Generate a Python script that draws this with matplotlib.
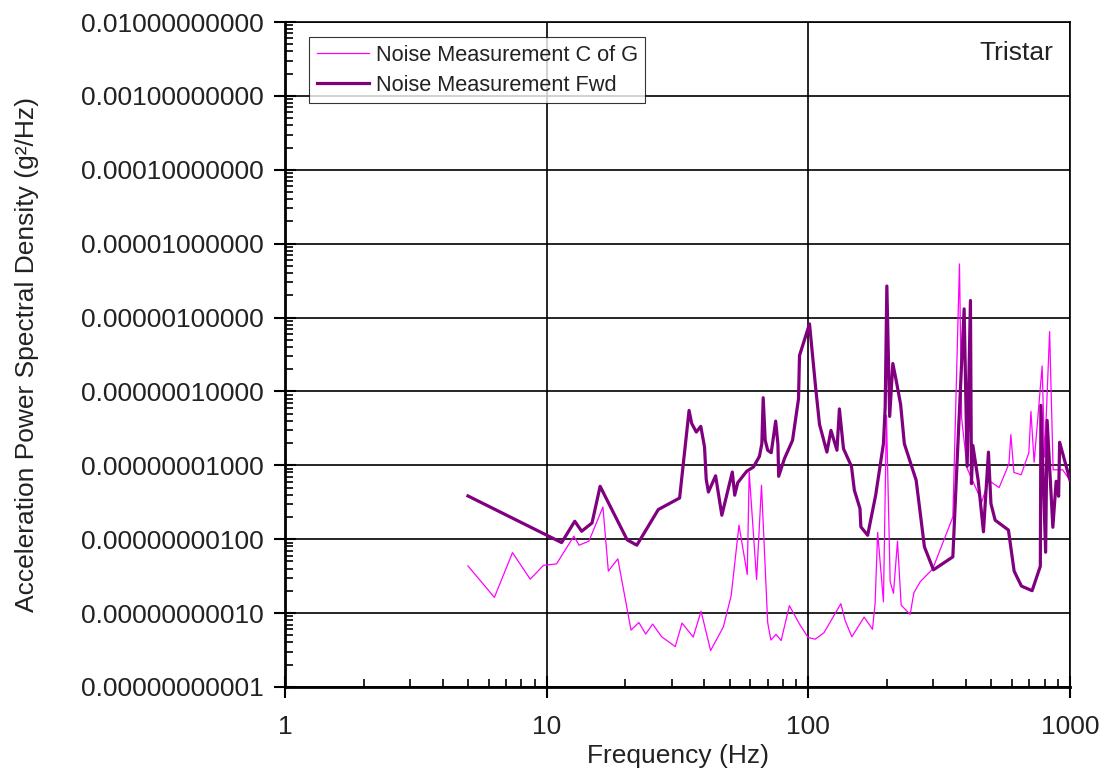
import matplotlib
matplotlib.use("Agg")
import matplotlib.pyplot as plt
from matplotlib.ticker import LogLocator, FixedLocator, FuncFormatter, NullFormatter

plt.rcParams['font.family'] = ['Liberation Sans', 'DejaVu Sans']

# Forward measurement point
fwd_freq = [5.0, 11.4, 12.8, 13.6, 14.9, 16.0, 20.3, 22.1, 26.7, 32.2, 35.0, 35.8, 37.3,
            38.8, 40.1, 40.7, 41.5, 44.2, 46.7, 51.2, 52.3, 53.7, 58.1, 61.7, 65.0, 66.4,
            67.2, 68.4, 69.9, 72.1, 75.0, 76.5, 77.0, 81.0, 87.0, 91.7, 92.5, 101.0, 106.6,
            110.3, 117.7, 122.0, 128.6, 131.4, 136.2, 146.1, 149.9, 157.5, 158.7, 168.5,
            180.8, 193.6, 196.6, 199.5, 204.5, 210.3, 217.8, 225.2, 232.7, 258.2, 277.7,
            300.6, 356.6, 370.4, 393.8, 404.4, 416.3, 420.0, 425.2, 445.5, 466.8, 487.8,
            498.6, 517.4, 581.6, 611.5, 652.0, 716.3, 770.0, 774.1, 806.8, 817.5, 859.7,
            885.0, 904.6, 912.6, 1000.0]
fwd_psd = [3.85e-9, 9.0e-10, 1.75e-9, 1.28e-9, 1.66e-9, 5.2e-9, 9.8e-10, 8.3e-10, 2.52e-9,
           3.61e-9, 5.53e-8, 3.70e-8, 2.82e-8, 3.37e-8, 1.77e-8, 6.47e-9, 4.35e-9, 7.21e-9,
           2.11e-9, 8.1e-9, 3.94e-9, 5.81e-9, 8.3e-9, 9.5e-9, 1.32e-8, 1.96e-8, 8.22e-8,
           2.18e-8, 1.6e-8, 1.48e-8, 3.97e-8, 1.92e-8, 7.1e-9, 1.23e-8, 2.18e-8, 7.96e-8,
           3.06e-7, 8.22e-7, 1.13e-7, 3.58e-8, 1.51e-8, 2.97e-8, 1.6e-8, 5.8e-8, 1.68e-8,
           9.7e-9, 4.59e-9, 2.6e-9, 1.47e-9, 1.13e-9, 3.94e-9, 1.96e-8, 6.14e-8, 2.67e-6,
           4.59e-8, 2.39e-7, 1.27e-7, 6.67e-8, 1.96e-8, 6.27e-9, 7.87e-10, 3.85e-10,
           5.77e-10, 1.17e-8, 1.31e-6, 9.7e-9, 1.7e-6, 5.66e-9, 1.86e-8, 6.27e-9, 1.26e-9,
           1.51e-8, 3.03e-9, 1.81e-9, 1.33e-9, 3.7e-10, 2.32e-10, 2.01e-10, 4.31e-10,
           6.47e-8, 6.67e-10, 4.06e-8, 1.45e-9, 6.08e-9, 3.81e-9, 2.05e-8, 6.27e-9]

# Centre of gravity measurement point
cg_freq = [5.0, 6.31, 7.40, 8.65, 9.72, 10.9, 12.7, 13.3, 14.5, 16.4, 17.2, 18.7, 21.0,
           22.5, 23.9, 25.4, 27.5, 31.0, 32.9, 36.3, 38.9, 42.3, 47.3, 50.7, 54.3, 58.4,
           59.4, 63.4, 66.2, 69.9, 71.9, 75.2, 78.7, 84.6, 92.7, 99.8, 106.2, 114.7, 133.1,
           138.2, 146.6, 163.4, 175.8, 179.9, 184.0, 193.6, 198.8, 205.4, 211.5, 219.1,
           226.3, 244.9, 253.0, 267.4, 298.5, 356.6, 378.0, 385.3, 404.4, 440.5, 460.3,
           487.8, 535.9, 584.2, 594.1, 610.4, 650.3, 696.0, 708.9, 729.1, 782.3, 799.6,
           835.6, 861.8, 936.9, 1000.0]
cg_psd = [4.35e-10, 1.63e-10, 6.58e-10, 2.88e-10, 4.43e-10, 4.63e-10, 1.1e-9, 8.3e-10,
          9.4e-10, 2.73e-9, 3.7e-10, 5.42e-10, 5.89e-11, 7.45e-11, 5.2e-11, 7.1e-11,
          4.78e-11, 3.52e-11, 7.33e-11, 4.74e-11, 1.06e-10, 3.11e-11, 6.47e-11, 1.72e-10,
          1.55e-9, 3.33e-10, 8.1e-9, 2.85e-10, 5.37e-9, 7.45e-11, 4.31e-11, 5.15e-11,
          4.25e-11, 1.26e-10, 7.0e-11, 4.67e-11, 4.43e-11, 5.42e-11, 1.34e-10, 7.92e-11,
          4.78e-11, 8.83e-11, 6.03e-11, 1.35e-10, 1.24e-9, 1.42e-10, 4.74e-8, 2.65e-10,
          1.85e-10, 9.4e-10, 1.28e-10, 9.6e-11, 1.88e-10, 2.65e-10, 3.94e-10, 2.0e-9,
          5.32e-6, 4.32e-8, 9.1e-9, 4.59e-9, 3.21e-9, 6.27e-9, 5.0e-9, 1.05e-8, 2.6e-8,
          8.0e-9, 7.45e-9, 1.48e-8, 5.37e-8, 1.1e-8, 2.21e-7, 1.29e-8, 6.47e-7, 8.7e-9,
          8.7e-9, 6.27e-9]

series_labels = ["Noise Measurement C of G", "Noise Measurement Fwd"]
x_ticks = [1, 10, 100, 1000]
y_ticks = [1e-11, 1e-10, 1e-9, 1e-8, 1e-7, 1e-6, 1e-5, 1e-4, 1e-3, 1e-2]

fig = plt.figure(figsize=(11.07, 7.73), dpi=100)
ax = fig.add_axes([0.2575, 0.1113, 0.7091, 0.8602])

ax.set_xscale('log')
ax.set_yscale('log')
ax.set_xlim(1, 1000)
ax.set_ylim(1e-11, 1e-2)

ax.plot(cg_freq, cg_psd, color='#FF00FF', lw=0.9, label=series_labels[0], zorder=3)
ax.plot(fwd_freq, fwd_psd, color='#800080', lw=2.3, label=series_labels[1],
        solid_joinstyle='round', zorder=4)

ax.xaxis.set_major_locator(FixedLocator(x_ticks))
ax.yaxis.set_major_locator(FixedLocator(y_ticks))
ax.xaxis.set_minor_locator(LogLocator(base=10, subs=range(2, 10), numticks=20))
ax.yaxis.set_minor_locator(LogLocator(base=10, subs=range(2, 10), numticks=20))
ax.xaxis.set_major_formatter(FuncFormatter(lambda v, p: f"{v:g}"))
ax.yaxis.set_major_formatter(FuncFormatter(lambda v, p: f"{v:.11f}"))
ax.xaxis.set_minor_formatter(NullFormatter())
ax.yaxis.set_minor_formatter(NullFormatter())

ax.grid(True, which='major', color='black', lw=1.2)
ax.set_axisbelow(True)
for s in ax.spines.values():
    s.set_color('black')
    s.set_linewidth(1.2)
ax.spines['left'].set_linewidth(2)
ax.spines['bottom'].set_linewidth(2)

ax.tick_params(which='major', direction='inout', length=16, width=1.5,
               labelsize=19, colors='black', labelcolor='#222222')
ax.tick_params(axis='y', which='major', pad=7.5)
ax.tick_params(axis='x', which='major', pad=12)
ax.tick_params(which='minor', direction='in', length=6, width=1.2, color='black')
ax.tick_params(top=False, right=False, which='both')

ax.set_xlabel("Frequency (Hz)", fontsize=19, color='#222222', labelpad=4)
ax.set_ylabel("Acceleration Power Spectral Density (g²/Hz)", fontsize=19,
              color='#222222', labelpad=30)

leg = ax.legend(loc='upper left', bbox_to_anchor=(0.0306, 0.977), borderaxespad=0,
                fontsize=15.7, frameon=True, fancybox=False, handlelength=2.4,
                handletextpad=0.3, labelspacing=0.4, borderpad=0.35)
leg.get_frame().set_edgecolor('black')
leg.get_frame().set_linewidth(0.8)
for t in leg.get_texts():
    t.set_color('#222222')

ax.text(0.978, 0.953, "Tristar", transform=ax.transAxes, ha='right', va='center',
        fontsize=19, color='#222222')

fig.savefig("out.png", dpi=100)
